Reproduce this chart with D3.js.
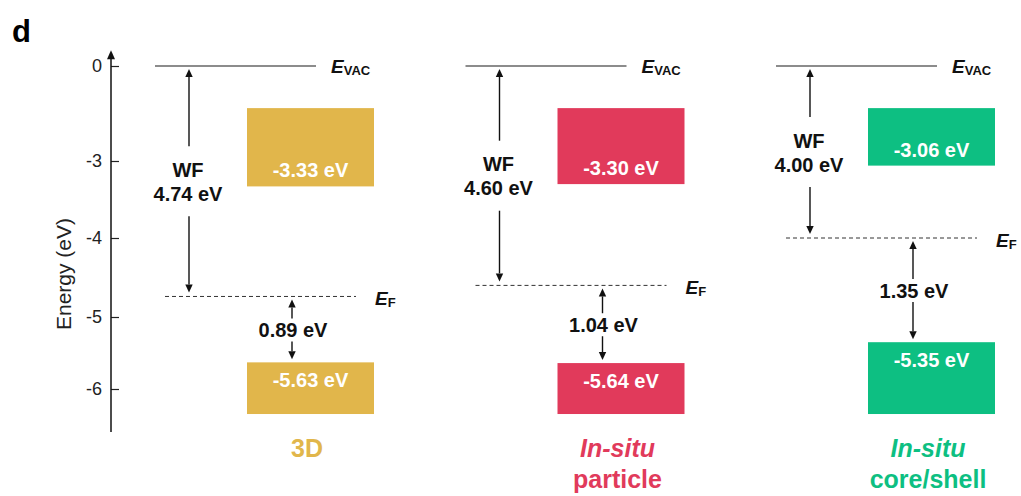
<!DOCTYPE html>
<html><head><meta charset="utf-8">
<script src="https://cdn.jsdelivr.net/npm/d3@7"></script>
<style>body{margin:0;background:#fff} svg{display:block} text{font-family:"Liberation Sans",Arial,Helvetica,sans-serif}</style>
</head><body><svg id="c" width="1021" height="496"></svg>
<script>
// ---- data ----
const categories = ["3D", "In-situ particle", "In-situ core/shell"];
const labelLine1 = ["3D", "In-situ", "In-situ"];
const labelLine2 = ["", "particle", "core/shell"];
const labelItalic = [false, true, true];
const vacuumLevel = [0, 0, 0];
const fermiLevel = [-4.74, -4.60, -4.00];
const workFunction = [4.74, 4.60, 4.00];
const cbEdge = [-3.33, -3.30, -3.06];
const vbEdge = [-5.63, -5.64, -5.35];
const gapToVB = [0.89, 1.04, 1.35];
const colors = ["#E1B64B", "#E13A5B", "#0DBF82"];
const yTicks = [0, -3, -4, -5, -6];
const yTickLabels = ["0", "-3", "-4", "-5", "-6"];
const cbBoxTop = -1.33;     // schematic top of conduction band block
const vbBoxBottom = -6.32;  // schematic bottom of valence band block
const axisTop = 0.5, axisBottom = -6.55;

// ---- scales ----
const svg = d3.select("#c");
const y = d3.scaleLinear()
  .domain([0, -3, -4, -5, -6, axisBottom])
  .range([66, 161, 238, 317, 389, 432]);
const x0 = d3.scalePoint().domain(categories).range([155, 776]);

// panel letter
svg.append("text").attr("x", 12).attr("y", 42).attr("font-size", 31)
  .attr("font-weight", "bold").attr("fill", "#000").text("d");

// ---- axis ----
const axisX = 111;
const axis = d3.axisLeft(y).tickValues(yTicks)
  .tickFormat((d, i) => yTickLabels[i]).tickSizeInner(-8).tickSizeOuter(0).tickPadding(9);
const ag = svg.append("g").attr("transform", `translate(${axisX},0)`).call(axis);
ag.select(".domain").remove();
ag.selectAll(".tick line").attr("stroke", "#222").attr("stroke-width", 1.2);
ag.selectAll(".tick text").attr("font-size", 18).attr("fill", "#222")
  .attr("font-family", '"Liberation Sans",Arial,sans-serif');
svg.append("line").attr("x1", axisX).attr("x2", axisX)
  .attr("y1", y(axisTop) + 7).attr("y2", y(axisBottom))
  .attr("stroke", "#111").attr("stroke-width", 1.5);
svg.append("path")
  .attr("d", `M${axisX},${y(axisTop)} L${axisX - 4},${y(axisTop) + 9} L${axisX + 4},${y(axisTop) + 9} Z`)
  .attr("fill", "#111");
svg.append("text").attr("transform", `translate(63,274) rotate(-90)`)
  .attr("text-anchor", "middle").attr("dominant-baseline", "central")
  .attr("font-size", 21).attr("fill", "#222").text("Energy (eV)");

// ---- helpers ----
function arrow(g, x, fromY, tipY) {
  const dir = tipY < fromY ? 1 : -1; // head base lies back toward fromY
  const base = tipY + dir * 8;
  g.append("line").attr("x1", x).attr("x2", x).attr("y1", fromY).attr("y2", base)
    .attr("stroke", "#111").attr("stroke-width", 1.4);
  g.append("path").attr("d", `M${x},${tipY} L${x - 3.7},${base} L${x + 3.7},${base} Z`)
    .attr("fill", "#111");
}

// ---- columns ----
categories.forEach((c, i) => {
  const g = svg.append("g");
  const X = x0(c);
  const yv = y(vacuumLevel[i]), yf = y(fermiLevel[i]);
  const ycb = y(cbEdge[i]), yvb = y(vbEdge[i]);

  // vacuum level
  g.append("line").attr("x1", X).attr("x2", X + 161).attr("y1", yv).attr("y2", yv)
    .attr("stroke", "#666").attr("stroke-width", 1.6);
  const ev = g.append("text").attr("x", X + 176).attr("y", yv + 7)
    .attr("font-size", 19).attr("font-weight", "bold").attr("fill", "#111");
  ev.append("tspan").attr("font-style", "italic").text("E");
  ev.append("tspan").attr("font-size", 13).attr("dy", 2).text("VAC");

  // Fermi level
  g.append("line").attr("x1", X + 10).attr("x2", X + 201).attr("y1", yf).attr("y2", yf)
    .attr("stroke", "#333").attr("stroke-width", 1).attr("stroke-dasharray", "4,3");
  const ef = g.append("text").attr("x", X + 220).attr("y", yf + 9)
    .attr("font-size", 19).attr("font-weight", "bold").attr("fill", "#111");
  ef.append("tspan").attr("font-style", "italic").text("E");
  ef.append("tspan").attr("font-size", 13).attr("dy", 2).text("F");

  // work function arrows
  const wx = X + 34, wm = (yv + yf) / 2;
  arrow(g, wx, wm - 35, yv + 3);
  arrow(g, wx, wm + 35, yf - 4);
  g.append("text").attr("x", wx - 1).attr("y", wm - 4.5).attr("text-anchor", "middle")
    .attr("font-size", 20).attr("font-weight", "bold").attr("fill", "#111").text("WF");
  g.append("text").attr("x", wx - 1).attr("y", wm + 19.5).attr("text-anchor", "middle")
    .attr("font-size", 20).attr("font-weight", "bold").attr("fill", "#111")
    .text(workFunction[i].toFixed(2) + " eV");

  // band blocks
  const bx = X + 92, bw = 127;
  g.append("rect").attr("x", bx).attr("width", bw).attr("y", y(cbBoxTop))
    .attr("height", ycb - y(cbBoxTop)).attr("fill", colors[i]);
  g.append("text").attr("x", bx + bw / 2).attr("y", ycb - 9).attr("text-anchor", "middle")
    .attr("font-size", 20).attr("font-weight", "bold").attr("fill", "#fff")
    .text(cbEdge[i].toFixed(2) + " eV");
  g.append("rect").attr("x", bx).attr("width", bw).attr("y", yvb)
    .attr("height", y(vbBoxBottom) - yvb).attr("fill", colors[i]);
  g.append("text").attr("x", bx + bw / 2).attr("y", yvb + 25).attr("text-anchor", "middle")
    .attr("font-size", 20).attr("font-weight", "bold").attr("fill", "#fff")
    .text(vbEdge[i].toFixed(2) + " eV");

  // Ef to VB gap
  const gx = X + 137, gm = (yf + yvb) / 2;
  arrow(g, gx, gm - 11, yf + 3);
  arrow(g, gx, gm + 12, yvb - 3);
  g.append("text").attr("x", gx + 1).attr("y", gm + 7.5).attr("text-anchor", "middle")
    .attr("font-size", 20).attr("font-weight", "bold").attr("fill", "#111")
    .text(gapToVB[i].toFixed(2) + " eV");

  // category label
  const lx = X + 152;
  g.append("text").attr("x", lx).attr("y", 457).attr("text-anchor", "middle")
    .attr("font-size", 25).attr("font-weight", "bold")
    .attr("font-style", labelItalic[i] ? "italic" : "normal")
    .attr("fill", colors[i]).text(labelLine1[i]);
  if (labelLine2[i]) {
    g.append("text").attr("x", lx).attr("y", 488).attr("text-anchor", "middle")
      .attr("font-size", 25).attr("font-weight", "bold")
      .attr("fill", colors[i]).text(labelLine2[i]);
  }
});
</script>
</body></html>
